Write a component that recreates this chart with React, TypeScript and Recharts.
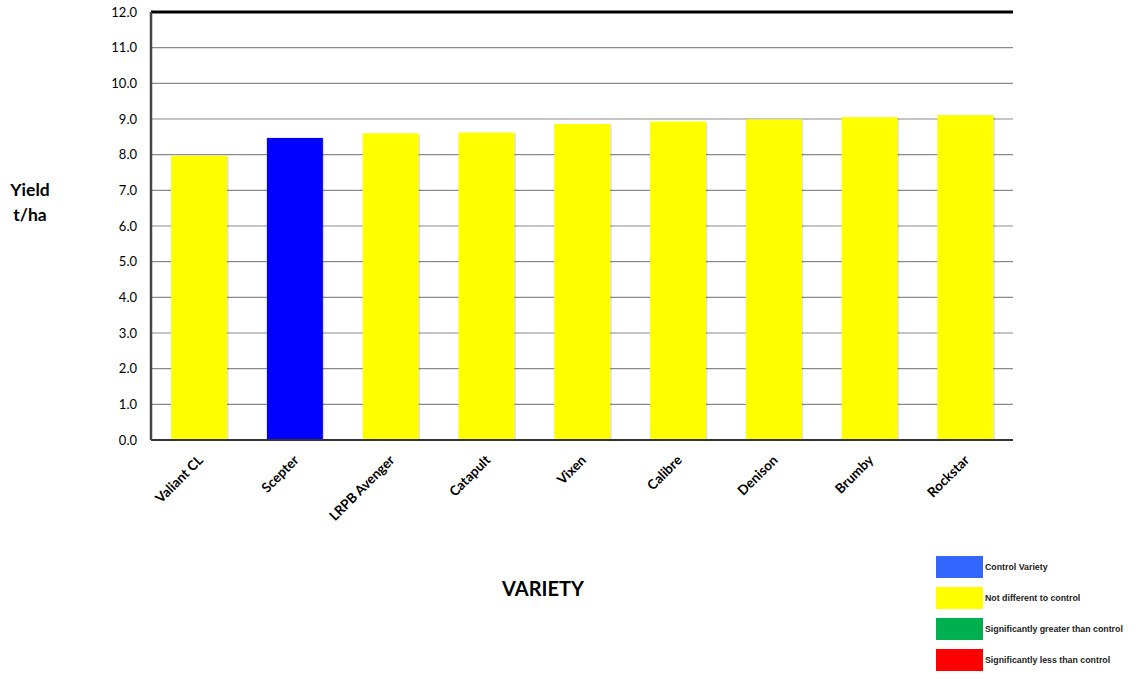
import React from "react";
import {
  BarChart,
  Bar,
  XAxis,
  YAxis,
  CartesianGrid,
  Cell,
  ReferenceLine,
} from "recharts";

const varieties = [
  "Valiant CL",
  "Scepter",
  "LRPB Avenger",
  "Catapult",
  "Vixen",
  "Calibre",
  "Denison",
  "Brumby",
  "Rockstar",
];
const yields = [7.97, 8.47, 8.6, 8.62, 8.86, 8.93, 8.99, 9.05, 9.11];
const status = ["same", "control", "same", "same", "same", "same", "same", "same", "same"];
const yTicks = [0, 1, 2, 3, 4, 5, 6, 7, 8, 9, 10, 11, 12];

const barColors: Record<string, string> = {
  control: "#0000ff",
  same: "#ffff00",
  greater: "#00b050",
  less: "#ff0000",
};

const legendItems = [
  { label: "Control Variety", color: "#3366ff" },
  { label: "Not different to control", color: "#ffff00" },
  { label: "Significantly greater than control", color: "#00b050" },
  { label: "Significantly less than control", color: "#ff0000" },
];

const data = varieties.map((v, i) => ({ name: v, value: yields[i], status: status[i] }));

const FONT = "Lato, 'Open Sans', sans-serif";

const XTick = (props: any) => {
  const { x, y, payload } = props;
  const tx = x + 5;
  const ty = y + 13;
  return (
    <text
      x={tx}
      y={ty}
      textAnchor="end"
      fontFamily={FONT}
      fontWeight="bold"
      fontSize={13.5}
      fill="#000"
      transform={`rotate(-45, ${tx}, ${ty})`}
    >
      {payload.value}
    </text>
  );
};

const ShadowBar = (props: any) => {
  const { x, y, width, height, fill } = props;
  if (height <= 0) return null;
  return (
    <g>
      <rect x={x + 1.5} y={y + 1} width={width} height={height - 1} fill="rgba(0,0,0,0.12)" />
      <rect x={x} y={y} width={width} height={height} fill={fill} />
    </g>
  );
};

export default function App() {
  return (
    <div style={{ position: "absolute", left: 0, top: 0, width: 1136, height: 692, background: "#fff" }}>
      <BarChart
        width={1136}
        height={692}
        data={data}
        margin={{ top: 12, right: 123, bottom: 152, left: 0 }}
        barCategoryGap="21%"
      >
        <CartesianGrid vertical={false} stroke="#8a8a8a" strokeWidth={1.2} />
        <XAxis
          dataKey="name"
          interval={0}
          height={100}
          tick={<XTick />}
          tickLine={false}
          axisLine={{ stroke: "#333", strokeWidth: 2 }}
        />
        <YAxis
          domain={[0, 12]}
          ticks={yTicks}
          width={151}
          tickFormatter={(v: number) => v.toFixed(1)}
          tickLine={false}
          tickSize={6}
          tickMargin={8}
          tick={{ fontFamily: FONT, fontSize: 13, fill: "#000" }}
          axisLine={{ stroke: "#444", strokeWidth: 2.5 }}
          interval={0}
        />
        <YAxis
          yAxisId="right"
          orientation="right"
          width={0}
          domain={[0, 12]}
          tick={false}
          tickLine={false}
          axisLine={{ stroke: "#222", strokeWidth: 2.5 }}
        />
        <ReferenceLine y={12} stroke="#000" strokeWidth={3} />
        <Bar dataKey="value" isAnimationActive={false} shape={<ShadowBar />}>
          {data.map((d, i) => (
            <Cell key={i} fill={barColors[d.status]} />
          ))}
        </Bar>
      </BarChart>

      <div
        style={{
          position: "absolute",
          left: 0,
          top: 177,
          width: 60,
          textAlign: "center",
          fontFamily: FONT,
          fontWeight: "bold",
          fontSize: 17.5,
          lineHeight: "25px",
          color: "#000",
        }}
      >
        Yield
        <br />
        t/ha
      </div>

      <div
        style={{
          position: "absolute",
          left: 443,
          top: 576,
          width: 200,
          textAlign: "center",
          fontFamily: FONT,
          fontWeight: "bold",
          fontSize: 20,
          color: "#000",
        }}
      >
        VARIETY
      </div>

      {legendItems.map((item, i) => (
        <div
          key={i}
          style={{
            position: "absolute",
            left: 936,
            top: 556 + i * 31,
            height: 22,
            display: "flex",
            alignItems: "center",
          }}
        >
          <div style={{ width: 47, height: 22, background: item.color }} />
          <span
            style={{
              marginLeft: 2,
              fontFamily: "'Liberation Sans', Arial, sans-serif",
              fontWeight: "bold",
              fontSize: 8.8,
              color: "#222",
              whiteSpace: "nowrap",
            }}
          >
            {item.label}
          </span>
        </div>
      ))}
    </div>
  );
}
